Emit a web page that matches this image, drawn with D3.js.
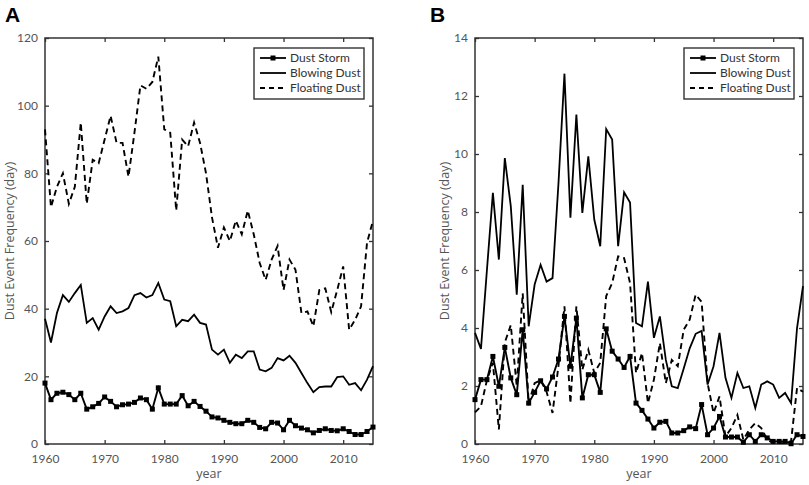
<!DOCTYPE html>
<html>
<head>
<meta charset="utf-8">
<script src="https://cdn.jsdelivr.net/npm/d3@7"></script>
<style>
  html, body { margin: 0; padding: 0; background: #fff; }
  svg { display: block; }
  .tick text { font-family: Lato, "Open Sans", sans-serif; font-size: 12px; fill: #555; }
  .axis-label { font-family: "Open Sans", Lato, sans-serif; font-size: 12.5px; fill: #555; }
  .legend-text { font-family: Lato, "Open Sans", sans-serif; font-size: 12px; fill: #333; }
  .panel-letter { font-family: "Liberation Sans", Arial, sans-serif; font-weight: bold; font-size: 21px; fill: #000; }
</style>
</head>
<body>
<svg id="chart" width="809" height="485"></svg>
<script>
// ============================================================
// DATA
// ============================================================
const years = d3.range(1960, 2016);

// Panel A
const stormA = [18, 13.1, 15, 15.3, 14.6, 13.1, 15, 10.3, 11, 12,
  13.9, 12.6, 11, 11.6, 11.8, 12.3, 13.6, 13.1, 10.3, 16.6,
  11.8, 11.8, 11.8, 14.3, 11.3, 12.6, 11.1, 9.7, 8, 7.7,
  7, 6.4, 6, 6, 7, 6.4, 4.9, 4.5, 6.4, 6.2,
  4.2, 7, 5.4, 4.7, 4.2, 3.3, 4, 4.5, 4, 3.9,
  4.5, 3.7, 2.8, 2.8, 3.7, 5];
const blowingA = [37, 30, 38.7, 44, 42, 44.6, 47, 35.8, 37.2, 33.8,
  37.7, 40.7, 38.7, 39.2, 40.2, 44, 44.6, 43.3, 44, 47.6,
  42.7, 42.2, 34.8, 36.7, 36.3, 38.2, 35.8, 35.3, 27.9, 26.4,
  27.9, 24, 26.4, 25.4, 27.4, 27.4, 22, 21.5, 22.5, 25.4,
  24.7, 26.1, 24, 21, 18, 15.3, 16.8, 17, 17, 19.8,
  20, 17.5, 18, 15.9, 19, 23];
const floatingA = [93, 70, 76, 80, 71, 76, 95, 71, 84, 83,
  90, 97, 89, 89, 79, 92, 106, 105, 107, 114.5,
  93, 92, 69, 90, 88, 95, 89, 80, 67, 58,
  64, 60, 66, 62, 69, 62, 53.5, 48.5, 54.5, 58.5,
  45.5, 54.5, 51.5, 38.7, 39.2, 34.8, 45.5, 46, 39, 45.5,
  52.5, 33.8, 36.7, 40.7, 59.5, 66];

// Panel B
const stormB = [1.53, 2.22, 2.22, 3.02, 1.99, 3.33, 2.28, 1.7, 3.94, 1.41,
  1.78, 2.18, 1.9, 2.31, 2.93, 4.4, 2.68, 4.34, 1.59, 2.39,
  2.39, 1.78, 3.97, 3.2, 2.93, 2.64, 3.02, 1.41, 1.16, 0.86,
  0.55, 0.75, 0.78, 0.38, 0.38, 0.46, 0.59, 0.53, 1.36, 0.32,
  0.55, 0.95, 0.24, 0.24, 0.24, 0.06, 0.32, 0.09, 0.32, 0.21,
  0.09, 0.09, 0.09, 0.01, 0.32, 0.26];
const blowingB = [3.83, 3.28, 6.0, 8.66, 6.36, 9.86, 8.2, 5.15, 8.94, 4.06,
  5.5, 6.18, 5.6, 5.72, 9.0, 12.77, 7.8, 11.36, 7.97, 9.92,
  7.74, 6.82, 10.86, 10.5, 6.82, 8.68, 8.33, 4.17, 4.06, 5.6,
  3.66, 4.4, 2.9, 1.99, 1.93, 2.6, 3.3, 3.8, 3.9, 2.05,
  2.68, 3.83, 2.28, 1.59, 2.45, 1.93, 1.99, 1.24, 2.05, 2.16,
  2.05, 1.59, 1.76, 1.41, 4.0, 5.44];
const floatingB = [1.09, 1.3, 2.2, 2.8, 0.5, 3.5, 4.1, 2.0, 5.2, 1.4,
  2.1, 2.2, 1.8, 1.07, 2.7, 4.75, 1.4, 4.75, 2.56, 3.25,
  2.45, 2.8, 5.1, 5.55, 6.47, 6.41, 5.55, 2.45, 3.14, 1.41,
  2.22, 3.48, 2.1, 2.9, 2.68, 3.94, 4.29, 5.15, 4.9, 2.1,
  1.07, 1.64, 0.26, 0.55, 1.0, 0.15, 0.5, 0.72, 0.55, 0.15,
  0.03, 0.03, 0.03, 0.1, 1.93, 1.8];

const xTicks = [1960, 1970, 1980, 1990, 2000, 2010];
const yTicksA = [0, 20, 40, 60, 80, 100, 120];
const yTicksB = [0, 2, 4, 6, 8, 10, 12, 14];
const legendNames = ['Dust Storm', 'Blowing Dust', 'Floating Dust'];

// ============================================================
// DRAWING
// ============================================================
const svg = d3.select('#chart');
const FRAME = '#333';

function drawPanel(opt) {
  const { left, right, top, bottom } = opt;
  const g = svg.append('g');

  const x = d3.scaleLinear().domain([1960, 2015]).range([left, right]);
  const y = d3.scaleLinear().domain([0, opt.yMax]).range([bottom, top]);

  // inward ticks on all four sides
  const axB = g.append('g').attr('transform', `translate(0,${bottom})`)
    .call(d3.axisBottom(x).tickValues(xTicks).tickFormat(d3.format('d'))
      .tickSizeInner(-4).tickSizeOuter(0).tickPadding(10));
  const axT = g.append('g').attr('transform', `translate(0,${top})`)
    .call(d3.axisTop(x).tickValues(xTicks).tickFormat('')
      .tickSizeInner(-4).tickSizeOuter(0));
  const axL = g.append('g').attr('transform', `translate(${left},0)`)
    .call(d3.axisLeft(y).tickValues(opt.yTicks)
      .tickSizeInner(-4).tickSizeOuter(0).tickPadding(7));
  const axR = g.append('g').attr('transform', `translate(${right},0)`)
    .call(d3.axisRight(y).tickValues(opt.yTicks).tickFormat('')
      .tickSizeInner(-4).tickSizeOuter(0));
  [axB, axT, axL, axR].forEach(a => {
    a.select('.domain').remove();
    a.selectAll('.tick line').attr('stroke', FRAME).attr('stroke-width', 1.3);
  });

  g.append('rect')
    .attr('x', left).attr('y', top)
    .attr('width', right - left).attr('height', bottom - top)
    .attr('fill', 'none').attr('stroke', FRAME).attr('stroke-width', 1.5);

  const line = d3.line().x((d, i) => x(years[i])).y(d => y(d));

  g.append('path').datum(opt.floating)
    .attr('d', line).attr('fill', 'none')
    .attr('stroke', '#000').attr('stroke-width', 1.9)
    .attr('stroke-dasharray', '6,4');

  g.append('path').datum(opt.blowing)
    .attr('d', line).attr('fill', 'none')
    .attr('stroke', '#000').attr('stroke-width', 1.8);

  g.append('path').datum(opt.storm)
    .attr('d', line).attr('fill', 'none')
    .attr('stroke', '#000').attr('stroke-width', 1.9);

  g.selectAll('.mk').data(opt.storm).enter().append('rect')
    .attr('class', 'mk')
    .attr('x', (d, i) => x(years[i]) - 2.5)
    .attr('y', d => y(d) - 2.5)
    .attr('width', 5).attr('height', 5)
    .attr('fill', '#000');

  // axis labels
  g.append('text').attr('class', 'axis-label')
    .attr('x', (left + right) / 2).attr('y', 478)
    .attr('text-anchor', 'middle').text('year');
  g.append('text').attr('class', 'axis-label')
    .attr('transform', `translate(${opt.yLabelX},${(top + bottom) / 2}) rotate(-90)`)
    .attr('text-anchor', 'middle').text('Dust Event Frequency (day)');

  // panel letter
  g.append('text').attr('class', 'panel-letter')
    .attr('x', opt.letterX).attr('y', 22).text(opt.letter);

  // legend
  const lx = right - 119, ly = 48, lw = 110, lh = 51;
  const lg = g.append('g');
  lg.append('rect').attr('x', lx).attr('y', ly).attr('width', lw).attr('height', lh)
    .attr('fill', '#fff').attr('stroke', FRAME).attr('stroke-width', 1.4);
  legendNames.forEach((name, i) => {
    const yy = ly + 10 + i * 15;
    const ln = lg.append('line')
      .attr('x1', lx + 6).attr('x2', lx + 32)
      .attr('y1', yy).attr('y2', yy)
      .attr('stroke', '#000').attr('stroke-width', 1.8);
    if (i === 2) ln.attr('stroke-dasharray', '5,4');
    if (i === 0) {
      lg.append('rect').attr('x', lx + 19 - 2.5).attr('y', yy - 2.5)
        .attr('width', 5).attr('height', 5).attr('fill', '#000');
    }
    lg.append('text').attr('class', 'legend-text')
      .attr('x', lx + 36).attr('y', yy + 4).text(name);
  });
}

drawPanel({
  left: 45, right: 373, top: 38, bottom: 444,
  yMax: 120, yTicks: yTicksA,
  storm: stormA, blowing: blowingA, floating: floatingA,
  yLabelX: 14, letter: 'A', letterX: 5
});

drawPanel({
  left: 475, right: 803, top: 38, bottom: 444,
  yMax: 14, yTicks: yTicksB,
  storm: stormB, blowing: blowingB, floating: floatingB,
  yLabelX: 449, letter: 'B', letterX: 430
});
</script>
</body>
</html>
